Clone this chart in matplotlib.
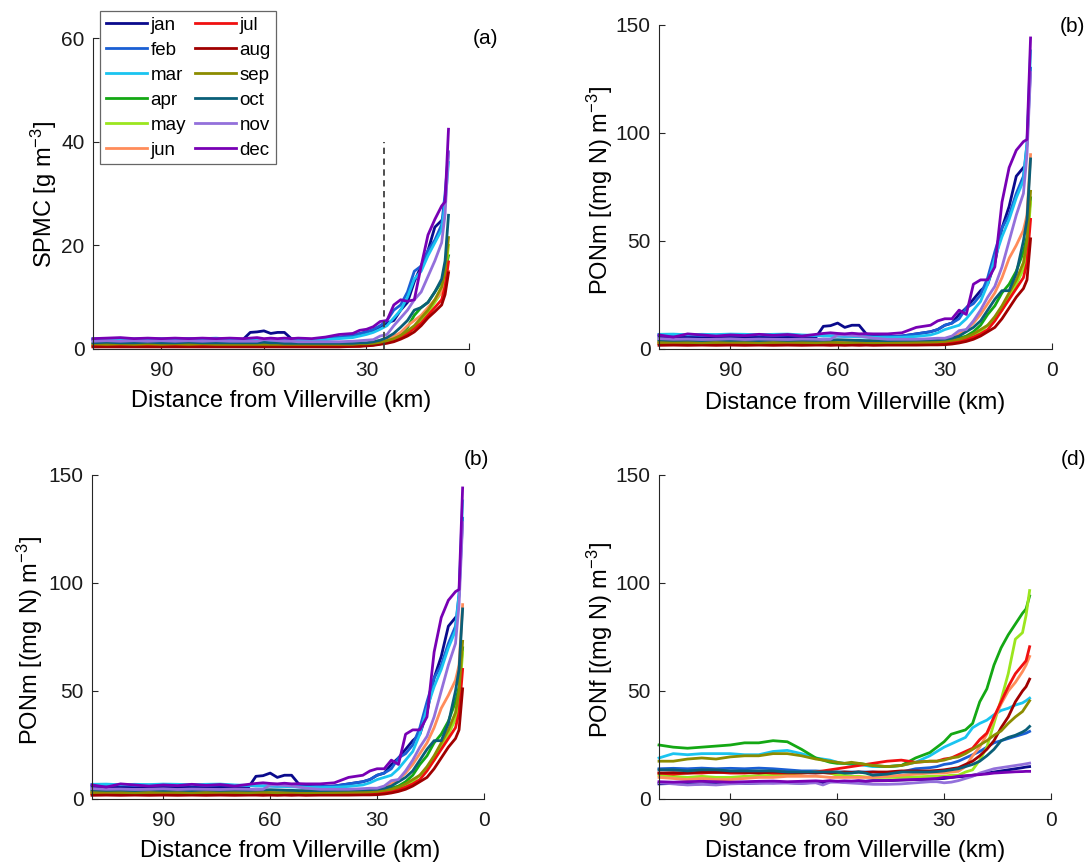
import numpy as np
import matplotlib
matplotlib.use("Agg")
import matplotlib.pyplot as plt

plt.rcParams['font.family'] = ['Liberation Sans', 'DejaVu Sans']
plt.rcParams['mathtext.default'] = 'regular'

nan = np.nan
dist = [110, 106, 102, 98, 94, 90, 86, 82, 78, 74, 70, 66, 64, 62, 60, 58, 56, 54, 52, 50,
        46, 42, 38, 34, 32, 30, 28, 26, 24, 22, 20, 18, 16, 14, 12, 10, 8, 7, 6]

months = ['jan', 'feb', 'mar', 'apr', 'may', 'jun', 'jul', 'aug', 'sep', 'oct', 'nov', 'dec']
colors = ['#0a0a8c', '#1a5fd4', '#1ac4f0', '#14a814', '#9be61e', '#ff8c5a',
          '#f01010', '#a00000', '#8c8c00', '#0a5f78', '#9370db', '#7800b4']

spmc = {
    'jan': [1.8, 1.9, 1.8, 1.9, 1.8, 1.9, 1.8, 1.9, 1.8, 1.9, 1.8, 1.9, 3.2, 3.3, 3.5, 3.0, 3.2, 3.2, 2.0, 1.9,
            1.8, 1.9, 2.2, 2.6, 2.9, 3.3, 3.5, 4.0, 5.0, 5.5, 7.5, 9.0, 13, 16, 19, 23.5, 24.8, nan, nan],
    'feb': [1.9, 2.0, 1.9, 1.9, 2.0, 1.8, 1.9, 2.0, 1.9, 1.9, 1.8, 1.8, 1.8, 1.7, 1.8, 1.8, 1.7, 1.8, 1.8, 1.8,
            1.8, 2.0, 2.3, 2.6, 3.0, 3.3, 3.8, 4.5, 5.5, 7.5, 8.5, 11, 15, 16, 19, 21, 24, 30, 38],
    'mar': [2.0, 1.9, 2.0, 1.9, 1.9, 2.0, 1.9, 1.9, 2.0, 2.1, 1.9, 1.8, 1.7, 1.7, 1.6, 1.6, 1.6, 1.7, 1.7, 1.7,
            1.7, 1.8, 2.0, 2.2, 2.5, 2.8, 3.2, 3.8, 4.5, 6.0, 7.5, 10, 13.5, 15, 18, 20.5, 23, 28, 36],
    'apr': [0.9, 0.9, 1.0, 0.9, 0.9, 1.0, 0.9, 0.9, 1.0, 0.9, 0.9, 0.9, 0.9, 0.9, 0.8, 0.8, 0.8, 0.8, 0.8, 0.8,
            0.8, 0.8, 0.8, 0.9, 0.9, 1.0, 1.2, 1.4, 1.8, 2.3, 3.0, 4.2, 6.5, 8.0, 9.0, 11, 13, 15, 18],
    'may': [0.6, 0.6, 0.7, 0.6, 0.6, 0.6, 0.7, 0.6, 0.6, 0.6, 0.6, 0.6, 0.6, 0.6, 0.6, 0.6, 0.6, 0.6, 0.6, 0.6,
            0.6, 0.6, 0.6, 0.6, 0.6, 0.7, 0.8, 1.0, 1.3, 1.7, 2.2, 3.0, 4.0, 5.5, 7.0, 9.0, 11, 14, 20],
    'jun': [0.8, 0.8, 0.8, 0.9, 0.8, 0.8, 0.8, 0.8, 0.9, 0.8, 0.8, 0.8, 0.8, 0.8, 0.8, 0.8, 0.8, 0.8, 0.8, 0.8,
            0.8, 0.8, 0.8, 0.8, 0.8, 0.9, 1.1, 1.4, 1.8, 2.4, 3.2, 4.5, 5.5, 6.5, 8.0, 9.5, 11, 13, 15],
    'jul': [0.5, 0.5, 0.5, 0.5, 0.5, 0.5, 0.5, 0.5, 0.5, 0.5, 0.5, 0.5, 0.5, 0.5, 0.5, 0.5, 0.5, 0.5, 0.5, 0.5,
            0.5, 0.5, 0.5, 0.5, 0.6, 0.7, 0.8, 1.0, 1.3, 1.7, 2.2, 3.0, 4.0, 5.0, 6.5, 8.0, 9.5, 12, 16.8],
    'aug': [0.4, 0.4, 0.4, 0.4, 0.4, 0.4, 0.4, 0.4, 0.4, 0.4, 0.4, 0.4, 0.4, 0.4, 0.4, 0.4, 0.4, 0.4, 0.4, 0.4,
            0.4, 0.4, 0.4, 0.5, 0.5, 0.6, 0.7, 0.9, 1.1, 1.4, 1.9, 2.5, 3.3, 4.5, 6.0, 7.2, 8.5, 10.5, 14.7],
    'sep': [1.0, 0.9, 1.0, 0.9, 1.0, 0.9, 1.0, 0.9, 1.0, 0.9, 0.9, 0.9, 0.9, 0.9, 0.9, 0.9, 0.9, 0.9, 0.9, 0.9,
            0.9, 0.9, 0.9, 0.9, 1.0, 1.0, 1.1, 1.3, 1.6, 2.0, 2.6, 3.5, 4.5, 6.0, 7.5, 9.5, 12, 15, 21.5],
    'oct': [1.2, 1.3, 1.2, 1.2, 1.3, 1.2, 1.2, 1.3, 1.2, 1.2, 1.2, 1.2, 1.2, 1.2, 1.3, 1.2, 1.2, 1.1, 1.1, 1.1,
            1.1, 1.1, 1.1, 1.1, 1.2, 1.2, 1.4, 1.7, 2.2, 3.0, 4.2, 5.5, 7.5, 8.0, 9.0, 11, 13.5, 17, 25.8],
    'nov': [1.5, 1.6, 1.5, 1.6, 1.5, 1.6, 1.5, 1.6, 1.5, 1.6, 1.5, 1.5, 1.5, 1.5, 1.8, 1.7, 1.6, 1.5, 1.5, 1.4,
            1.4, 1.4, 1.4, 1.5, 1.6, 1.7, 1.8, 2.5, 2.8, 4.5, 6.0, 7.5, 9.5, 11, 14, 17, 20.5, 26, 38],
    'dec': [2.0, 2.1, 2.2, 2.0, 2.1, 2.0, 2.1, 2.0, 2.1, 2.0, 2.1, 2.0, 2.1, 2.2, 2.0, 2.1, 2.0, 2.1, 2.0, 2.1,
            2.0, 2.3, 2.8, 3.0, 3.6, 3.8, 4.3, 5.3, 5.5, 8.5, 9.5, 9.2, 9.5, 16, 22, 25, 27.6, 28.4, 42.4],
}

ponm = {
    'jan': [5.5, 5.6, 5.4, 5.5, 5.6, 5.5, 5.4, 5.6, 5.5, 5.4, 5.5, 5.6, 10.5, 10.8, 12, 10, 11, 11, 7, 6,
            5.5, 6, 7, 8, 9, 11, 12, 16, 19, 23, 27, 30, 40, 56, 66, 80, 84, nan, nan],
    'feb': [6.5, 6.3, 6.6, 6.2, 6.4, 6.5, 6.3, 6.6, 6.2, 6.5, 6.3, 6.2, 6.0, 6.1, 6.0, 5.9, 6.0, 5.8, 5.9, 5.7,
            5.8, 6.0, 7, 8, 9, 11, 12, 14, 19, 21, 25, 33, 45, 56, 62, 72, 80, 95, 130],
    'mar': [6.8, 6.9, 6.6, 6.8, 6.7, 6.9, 6.8, 6.6, 6.8, 6.9, 6.5, 6.3, 6.2, 6.0, 6.1, 5.9, 5.8, 5.6, 5.5, 5.4,
            5.3, 5.4, 5.8, 6.5, 7.5, 9, 10, 11, 14, 18, 22, 30, 42, 52, 60, 70, 78, 95, 138],
    'apr': [3.5, 3.6, 3.4, 3.5, 3.6, 3.5, 3.4, 3.5, 3.6, 3.5, 3.4, 3.5, 3.5, 3.4, 3.5, 3.4, 3.5, 3.4, 3.3, 3.3,
            3.2, 3.2, 3.3, 3.3, 3.4, 3.5, 4, 5, 6, 8, 11, 16, 20, 26, 30, 36, 45, 52, 70],
    'may': [2.5, 2.6, 2.5, 2.4, 2.5, 2.6, 2.5, 2.4, 2.5, 2.6, 2.5, 2.4, 2.5, 2.4, 2.5, 2.4, 2.5, 2.4, 2.3, 2.3,
            2.2, 2.2, 2.2, 2.3, 2.4, 2.5, 2.8, 3.5, 4.5, 6, 8, 11, 14, 18, 24, 30, 37, 46, 68],
    'jun': [3.5, 3.4, 3.5, 3.6, 3.4, 3.5, 3.6, 3.4, 3.5, 3.4, 3.5, 3.6, 3.4, 3.5, 3.4, 3.5, 3.3, 3.4, 3.3, 3.3,
            3.3, 3.4, 3.5, 3.6, 3.8, 4, 5, 7, 9, 12, 16, 21, 26, 33, 42, 48, 55, 62, 90],
    'jul': [2.4, 2.5, 2.4, 2.5, 2.4, 2.5, 2.4, 2.5, 2.4, 2.5, 2.4, 2.5, 2.5, 2.4, 2.5, 2.4, 2.5, 2.4, 2.5, 2.4,
            2.5, 2.5, 2.6, 2.7, 2.8, 3, 3.2, 3.8, 4.5, 5.5, 7, 9, 13, 18, 23, 28, 33, 40, 60],
    'aug': [1.7, 1.8, 1.7, 1.8, 1.7, 1.8, 1.7, 1.8, 1.7, 1.8, 1.7, 1.8, 1.8, 1.7, 1.8, 1.7, 1.8, 1.7, 1.8, 1.7,
            1.8, 1.8, 1.8, 1.9, 1.9, 2.0, 2.3, 2.8, 3.5, 4.5, 6, 8, 10, 14, 19, 24, 28, 32, 51],
    'sep': [3.0, 3.1, 3.0, 2.9, 3.0, 3.1, 3.0, 2.9, 3.0, 3.1, 3.0, 2.9, 3.0, 3.1, 3.0, 2.9, 3.0, 3.1, 3.0, 2.9,
            3.0, 3.0, 3.1, 3.2, 3.3, 3.5, 4, 4.5, 5.5, 7, 9, 11, 15, 20, 26, 32, 40, 50, 73],
    'oct': [4.2, 4.0, 4.1, 3.9, 4.2, 4.0, 4.1, 3.9, 4.2, 4.0, 4.1, 4.0, 4.1, 4.2, 4.3, 4.2, 4.1, 4.0, 3.9, 3.9,
            3.9, 4.0, 4.1, 4.2, 4.3, 4.5, 5, 6, 8, 10, 13, 18, 23, 27, 27, 35, 50, 60, 88],
    'nov': [4.8, 4.5, 4.6, 4.4, 4.5, 4.7, 4.4, 4.6, 4.5, 4.4, 4.6, 4.5, 4.4, 4.5, 6.5, 6.5, 6.3, 6.0, 5.5, 5.0,
            4.5, 4.5, 4.5, 4.8, 5.0, 5, 6, 8.5, 9, 13, 18, 24, 29, 38, 50, 62, 72, 90, 128],
    'dec': [6.5, 5.5, 7.0, 6.5, 6.0, 6.5, 6.2, 6.8, 6.3, 6.7, 6.0, 6.8, 7.2, 7.5, 7.2, 7.0, 7.3, 7.0, 7.1, 7.0,
            7.0, 7.5, 10, 11, 13, 14, 14, 18, 16, 30, 32, 32, 38, 68, 84, 92, 96, 97, 144],
}

ponf = {
    'jan': [7, 7.2, 6.8, 7, 7.3, 7.5, 7.2, 7.4, 7.6, 7.5, 7.3, 7.8, 7.5, 8.0, 8.2, 7.8, 8.0, 8.3, 8.2, 8.5,
            8.5, 8.8, 9, 9.2, 9.3, 9.5, 10, 10.3, 10.5, 11, 11.5, 12, 12.5, 13, 13.5, 14, 14.5, 14.8, 15],
    'feb': [14, 14.2, 14, 14.3, 14, 14.2, 14, 14.3, 14, 13.5, 13, 13, 12.8, 12.5, 12.5, 12.5, 12.5, 12.5, 12.5, 12.5,
            12, 12.5, 14, 14.5, 15, 16, 16.5, 17.5, 19, 20.5, 22, 24, 26, 27, 28, 29, 30, 30.5, 31.3],
    'mar': [19, 21, 20.5, 21, 21, 21, 20.5, 20.5, 22, 22.5, 21, 19, 18.5, 18, 17, 16.5, 16, 16, 15.5, 15,
            15, 15.5, 17, 20, 22, 24, 25.5, 27, 28.5, 33, 35, 36.5, 39, 41, 42, 43.5, 44.5, 45.5, 46.7],
    'apr': [25, 24, 23.5, 24, 24.5, 25, 26, 26, 27, 26.5, 23, 19, 18, 17, 16.5, 16.5, 16.5, 16.5, 16, 15.5,
            15, 15.5, 19, 21.5, 24, 26.5, 30, 31, 32, 35, 45, 51, 62, 70, 76, 81, 86, 88, 94],
    'may': [11, 10.5, 10, 10.5, 10, 10, 10.5, 10.8, 11, 11.5, 12, 12.5, 12.3, 12, 11, 11, 10.5, 10.5, 10.2, 10,
            10, 10, 10.2, 10.5, 10.5, 10.5, 11, 11, 12.5, 13.5, 18, 24, 35, 46, 58, 74, 77, 85, 96.5],
    'jun': [10, 9.5, 9, 9.5, 9, 9, 9.5, 10, 10, 10.5, 10.5, 10.5, 10.3, 10, 10, 10, 10, 10, 10, 10,
            10.5, 11, 11.5, 12, 12, 12, 12.5, 12.8, 15, 20, 24, 30, 37, 44, 50, 54, 59, 62, 66],
    'jul': [12, 11.5, 12, 12, 12.5, 12, 12, 12.5, 12, 12, 12, 12.5, 13, 13.5, 14, 14.5, 15, 15.5, 16, 16.5,
            17.5, 18, 17, 17.5, 17.5, 18.5, 19, 20.5, 22, 23.5, 27.5, 30.5, 38, 45, 52, 58, 62, 64, 70.5],
    'aug': [12, 12.2, 12, 12.5, 12.3, 12.5, 12.3, 12, 12.5, 12.3, 12.2, 12, 12.2, 12, 12.3, 12.5, 12.3, 12.5, 12.3, 12.5,
            12.5, 13, 13, 13, 13.2, 13.5, 14, 14.5, 16, 17.5, 20, 23, 27, 33, 38, 45, 50, 52, 55.5],
    'sep': [17.5, 17.5, 18.5, 19, 18.5, 19.5, 20, 20, 21, 21, 20, 18.5, 18, 17.5, 17, 16.5, 17, 16.5, 16, 15.5,
            15, 15.5, 17, 17.5, 17.5, 18, 19, 19.5, 21, 23, 25, 27, 29.5, 31.5, 35, 38, 40.5, 43, 45.5],
    'oct': [13.5, 13.5, 13, 13.5, 13.5, 13, 13, 13, 13, 12.5, 12.5, 12.5, 12.5, 12.5, 12.5, 12, 12, 12.5, 12, 11,
            11.5, 12.5, 12.5, 12.5, 12.7, 13, 13.5, 14, 15, 16, 17.5, 20, 23, 27, 28.5, 29.5, 31, 32, 33.6],
    'nov': [7.5, 7, 6.5, 6.8, 6.5, 7, 7.2, 7.4, 7.2, 7.5, 7.2, 7.5, 6.5, 7.8, 7.8, 7.6, 7.4, 7.2, 7.0, 6.8,
            6.8, 7.0, 7.5, 8, 8, 7.5, 7.8, 8.5, 9.5, 10.5, 12, 13, 14, 14.5, 15, 15.5, 16, 16.3, 16.6],
    'dec': [8, 7.8, 8, 8.2, 8, 7.8, 8, 8.2, 8.3, 8, 8.2, 8.4, 8.2, 8.5, 8.2, 8.4, 8.3, 8.5, 8.2, 8.4,
            8.5, 8.8, 9, 9.3, 9.5, 10, 10, 10.5, 10.8, 11, 11.3, 11.6, 12, 12.2, 12.4, 12.6, 12.7, 12.8, 12.8],
}

W, H = 1089, 867
fig = plt.figure(figsize=(W / 100, H / 100), dpi=100)


def px_axes(x0, x1, ytop, ybot):
    return fig.add_axes([x0 / W, 1 - ybot / H, (x1 - x0) / W, (ybot - ytop) / H])


AXC = '#262626'


def style(ax, ymax, yticks):
    ax.set_xlim(110, 0)
    ax.set_ylim(0, ymax)
    ax.set_xticks([90, 60, 30, 0])
    ax.set_yticks(yticks)
    for s in ['top', 'right']:
        ax.spines[s].set_visible(False)
    for s in ['left', 'bottom']:
        ax.spines[s].set_color(AXC)
        ax.spines[s].set_linewidth(0.8)
    ax.tick_params(direction='in', length=4, width=0.8, color=AXC, labelsize=15,
                   labelcolor='#1a1a1a')
    ax.tick_params(axis='x', pad=9)
    ax.tick_params(axis='y', pad=6)


def draw(ax, data):
    lines = []
    for m, c in zip(months, colors):
        ln, = ax.plot(dist, data[m], color=c, lw=2.0, label=m, clip_on=False)
        lines.append(ln)
    return lines


ax_a = px_axes(93, 469, 38, 349)
ax_b = px_axes(659, 1052, 25, 349)
ax_c = px_axes(92, 484, 475, 799)
ax_d = px_axes(659, 1051, 475, 799)

lines = draw(ax_a, spmc)
style(ax_a, 60, [0, 20, 40, 60])
ax_a.plot([25, 25], [0, 40], ls=(0, (3.5, 2.5)), color='#404040', lw=1.3)

draw(ax_b, ponm)
style(ax_b, 150, [0, 50, 100, 150])
draw(ax_c, ponm)
style(ax_c, 150, [0, 50, 100, 150])
draw(ax_d, ponf)
style(ax_d, 150, [0, 50, 100, 150])

leg = fig.legend(handles=lines, labels=months, ncol=2, loc='upper left',
                 bbox_to_anchor=(100 / W, 1 - 11 / H), bbox_transform=fig.transFigure,
                 fontsize=13.5, frameon=True, fancybox=False, borderaxespad=0,
                 handlelength=2.2, handletextpad=0.2, columnspacing=0.45,
                 labelspacing=0.42, borderpad=0.3)
leg.get_frame().set_edgecolor('#404040')
leg.get_frame().set_linewidth(0.9)

xl = 'Distance from Villerville (km)'
fig.text(281 / W, 1 - 401 / H, xl, ha='center', va='center', fontsize=17)
fig.text(855 / W, 1 - 403 / H, xl, ha='center', va='center', fontsize=17)
fig.text(290 / W, 1 - 851 / H, xl, ha='center', va='center', fontsize=17)
fig.text(855 / W, 1 - 851 / H, xl, ha='center', va='center', fontsize=17)

fig.text(44 / W, 1 - 194 / H, 'SPMC [g m$^{-3}$]', rotation=90, ha='center', va='center', fontsize=17)
fig.text(600 / W, 1 - 190 / H, 'PONm [(mg N) m$^{-3}$]', rotation=90, ha='center', va='center', fontsize=17)
fig.text(30 / W, 1 - 640 / H, 'PONm [(mg N) m$^{-3}$]', rotation=90, ha='center', va='center', fontsize=17)
fig.text(600 / W, 1 - 640 / H, 'PONf [(mg N) m$^{-3}$]', rotation=90, ha='center', va='center', fontsize=17)

fig.text(486 / W, 1 - 38 / H, '(a)', ha='center', va='center', fontsize=15)
fig.text(1072 / W, 1 - 27 / H, '(b)', ha='center', va='center', fontsize=15)
fig.text(476 / W, 1 - 460 / H, '(b)', ha='center', va='center', fontsize=15)
fig.text(1073 / W, 1 - 460 / H, '(d)', ha='center', va='center', fontsize=15)

fig.savefig('out.png', dpi=100)
